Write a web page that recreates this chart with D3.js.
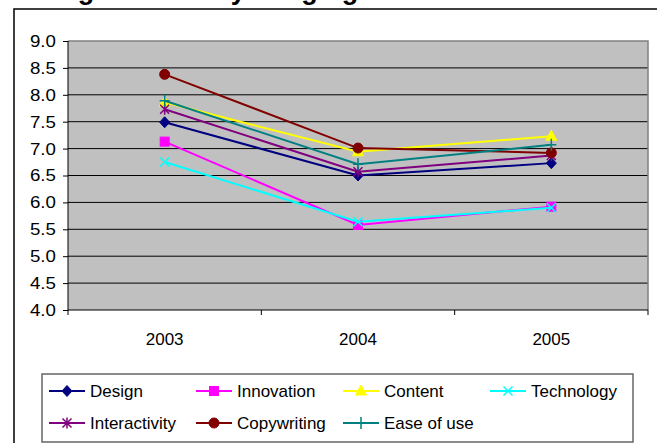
<!DOCTYPE html>
<html>
<head>
<meta charset="utf-8">
<script src="https://cdn.jsdelivr.net/npm/d3@7"></script>
<style>
  body { margin: 0; background: #fff; }
  text { font-family: "Liberation Sans", Arial, sans-serif; fill: #000; }
</style>
</head>
<body>
<script>
// chart data
var years = ['2003', '2004', '2005'];
var seriesNames = ['Design', 'Innovation', 'Content', 'Technology', 'Interactivity', 'Copywriting', 'Ease of use'];
var design = [7.49, 6.50, 6.73];
var innovation = [7.13, 5.58, 5.92];
var content = [7.86, 6.94, 7.23];
var technology = [6.75, 5.64, 5.90];
var interactivity = [7.73, 6.57, 6.87];
var copywriting = [8.38, 7.01, 6.92];
var easeOfUse = [7.89, 6.71, 7.07];
var yTicks = [4.0, 4.5, 5.0, 5.5, 6.0, 6.5, 7.0, 7.5, 8.0, 8.5, 9.0];
var title = 'Average Scores by Judging Criteria Chart';

var values = [design, innovation, content, technology, interactivity, copywriting, easeOfUse];
var colors = ['#000080', '#ff00ff', '#ffff00', '#00ffff', '#800080', '#800000', '#008080'];
var markers = ['diamond', 'square', 'triangle', 'x', 'star', 'circle', 'plus'];

var W = 657, H = 443;
var plot = {left: 68, right: 648, top: 41, bottom: 310};

var svg = d3.select('body').append('svg')
    .attr('width', W)
    .attr('height', H);

// title, mostly cut off at the top like in the reference
svg.append('text')
    .attr('x', 271)
    .attr('y', -1)
    .attr('text-anchor', 'middle')
    .style('font-size', '27px')
    .style('font-weight', 'bold')
    .text(title);

// outer chart frame (runs off the page on the right and bottom)
svg.append('rect')
    .attr('x', 14).attr('y', 9)
    .attr('width', 700).attr('height', 500)
    .style('fill', 'none')
    .style('stroke', '#000')
    .style('stroke-width', 1.5);

var xScale = d3.scaleBand()
    .domain(years)
    .range([plot.left, plot.right])
    .padding(0);

var yScale = d3.scaleLinear()
    .domain([4, 9])
    .range([plot.bottom, plot.top]);

// plot area
svg.append('rect')
    .attr('x', plot.left).attr('y', plot.top)
    .attr('width', plot.right - plot.left)
    .attr('height', plot.bottom - plot.top)
    .style('fill', '#c0c0c0');

// grid lines
svg.selectAll('.grid')
    .data(yTicks.filter(function(d){ return d > 4 && d < 9; }))
    .enter().append('line')
    .attr('class', 'grid')
    .attr('x1', plot.left).attr('x2', plot.right)
    .attr('y1', function(d){ return yScale(d); })
    .attr('y2', function(d){ return yScale(d); })
    .style('stroke', '#000')
    .style('stroke-width', 1);

// gray top and right border
svg.append('path')
    .attr('d', 'M' + plot.left + ',' + yScale(9) + 'H' + plot.right + 'V' + plot.bottom)
    .style('fill', 'none')
    .style('stroke', '#808080')
    .style('stroke-width', 1.5);

// y axis
var yAxis = d3.axisLeft(yScale)
    .tickValues(yTicks)
    .tickSize(5)
    .tickPadding(6)
    .tickFormat(d3.format('.1f'));
var gy = svg.append('g')
    .attr('transform', 'translate(' + plot.left + ',0)')
    .call(yAxis);
gy.select('.domain').remove();
gy.append('line')
    .attr('x1', 0).attr('x2', 0)
    .attr('y1', plot.top).attr('y2', plot.bottom + 5)
    .style('stroke', '#000');
gy.selectAll('.tick line').style('stroke', '#000');
gy.selectAll('.tick text')
    .style('font-size', '17px')
    .attr('transform', 'scale(1.1,1)');

// x axis, ticks on category boundaries
svg.append('line')
    .attr('x1', plot.left).attr('x2', plot.right)
    .attr('y1', plot.bottom).attr('y2', plot.bottom)
    .style('stroke', '#000');
var boundaries = years.map(function(y){ return xScale(y) + xScale.bandwidth(); });
svg.selectAll('.xtick')
    .data(boundaries)
    .enter().append('line')
    .attr('class', 'xtick')
    .attr('x1', function(d){ return d; }).attr('x2', function(d){ return d; })
    .attr('y1', plot.bottom).attr('y2', plot.bottom + 5)
    .style('stroke', '#000');
svg.selectAll('.xlabel')
    .data(years)
    .enter().append('text')
    .attr('class', 'xlabel')
    .attr('x', function(d){ return xScale(d) + xScale.bandwidth() / 2; })
    .attr('y', plot.bottom + 35)
    .attr('text-anchor', 'middle')
    .style('font-size', '17px')
    .text(function(d){ return d; });

function drawMarker(g, type, color, x, y){
    if(type === 'diamond'){
        g.append('path')
            .attr('d', 'M' + x + ',' + (y - 5.5) + 'L' + (x + 5) + ',' + y + 'L' + x + ',' + (y + 5.5) + 'L' + (x - 5) + ',' + y + 'Z')
            .style('fill', color).style('stroke', color);
    } else if(type === 'square'){
        g.append('rect')
            .attr('x', x - 4.5).attr('y', y - 4.5)
            .attr('width', 9).attr('height', 9)
            .style('fill', color).style('stroke', color);
    } else if(type === 'triangle'){
        g.append('path')
            .attr('d', 'M' + x + ',' + (y - 6) + 'L' + (x + 5.5) + ',' + (y + 4) + 'L' + (x - 5.5) + ',' + (y + 4) + 'Z')
            .style('fill', color).style('stroke', color);
    } else if(type === 'circle'){
        g.append('circle')
            .attr('cx', x).attr('cy', y).attr('r', 5)
            .style('fill', color).style('stroke', color);
    } else {
        var d = '';
        if(type === 'x' || type === 'star'){
            d += 'M' + (x - 4.5) + ',' + (y - 4.5) + 'L' + (x + 4.5) + ',' + (y + 4.5);
            d += 'M' + (x + 4.5) + ',' + (y - 4.5) + 'L' + (x - 4.5) + ',' + (y + 4.5);
        }
        if(type === 'star'){
            d += 'M' + x + ',' + (y - 5.5) + 'L' + x + ',' + (y + 5.5);
        }
        if(type === 'plus'){
            d += 'M' + (x - 5) + ',' + y + 'L' + (x + 5) + ',' + y;
            d += 'M' + x + ',' + (y - 6) + 'L' + x + ',' + (y + 6);
        }
        g.append('path')
            .attr('d', d)
            .style('fill', 'none').style('stroke', color).style('stroke-width', 1.5);
    }
}

var line = d3.line()
    .x(function(d, i){ return xScale(years[i]) + xScale.bandwidth() / 2; })
    .y(function(d){ return yScale(d); });

values.forEach(function(vals, s){
    var g = svg.append('g').attr('class', 'series');
    g.append('path')
        .datum(vals)
        .attr('d', line)
        .style('fill', 'none')
        .style('stroke', colors[s])
        .style('stroke-width', 2);
    vals.forEach(function(v, i){
        drawMarker(g, markers[s], colors[s], xScale(years[i]) + xScale.bandwidth() / 2, yScale(v));
    });
});

// legend
var legend = svg.append('g');
legend.append('rect')
    .attr('x', 42).attr('y', 374)
    .attr('width', 591).attr('height', 68)
    .style('fill', '#fff')
    .style('stroke', '#666')
    .style('stroke-width', 1.5);
seriesNames.forEach(function(name, i){
    var col = i % 4, row = Math.floor(i / 4);
    var x0 = 49 + col * 147, y0 = 391 + row * 32;
    legend.append('line')
        .attr('x1', x0).attr('x2', x0 + 36)
        .attr('y1', y0).attr('y2', y0)
        .style('stroke', colors[i])
        .style('stroke-width', 2);
    drawMarker(legend, markers[i], colors[i], x0 + 18, y0);
    legend.append('text')
        .attr('x', x0 + 41)
        .attr('y', y0 + 6)
        .style('font-size', '17px')
        .text(name);
});
</script>
</body>
</html>
